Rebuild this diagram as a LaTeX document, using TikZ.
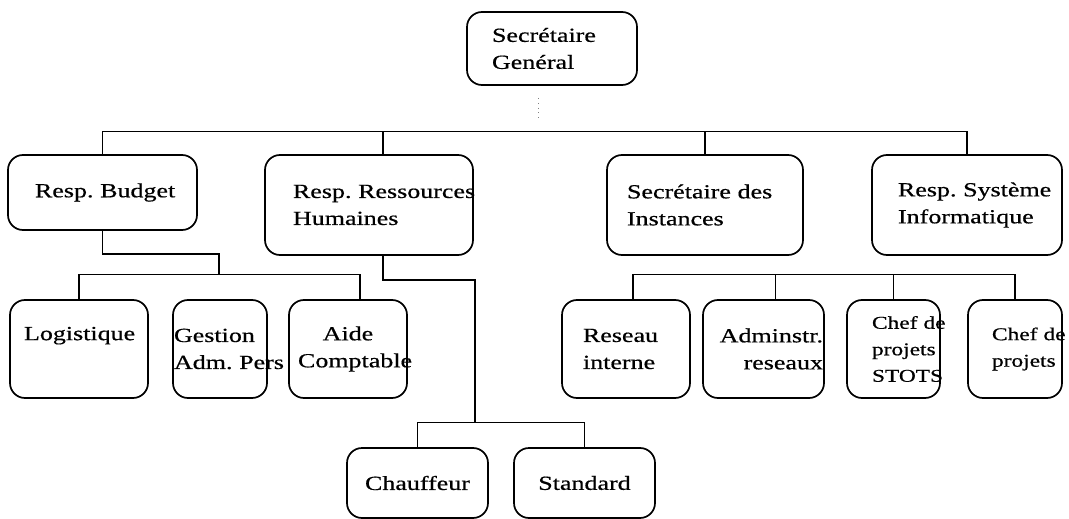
\documentclass[tikz,border=0pt]{standalone}
\usepackage{fontspec}
\setmainfont[FakeStretch=1.3,FakeBold=0.6]{Liberation Serif}
\usetikzlibrary{positioning,calc}

\tikzset{
  post/.style={draw, line width=1.7pt, rounded corners=15pt, inner sep=0pt,
    font=\fontsize{20}{27}\selectfont\frenchspacing},
  tight/.style={font=\fontsize{18}{26.5}\selectfont\frenchspacing},
  link/.style={line width=1.3pt},
}

\begin{document}
\begin{tikzpicture}[x=1pt,y=-1pt]
    \useasboundingbox (0,0) rectangle (1069,519);

    % direction
    \node[post, minimum width=170, minimum height=73, text width=120, align=left] (sg) at (552,48.5) {\mbox{Secrétaire}\\\mbox{Genéral}};

    % responsables
    \node[post, minimum width=189, minimum height=75, text width=135, align=left] (budget) at (102.5,192.5) {\mbox{Resp. Budget}};
    \node[post, minimum width=208, minimum height=100, text width=152, align=left] (rh) at (369,205) {\mbox{Resp. Ressources}\\\mbox{Humaines}};
    \node[post, minimum width=196, minimum height=100, text width=156, align=left] (si) at (705,205) {\mbox{Secrétaire des}\\\mbox{Instances}};
    \node[post, minimum width=190, minimum height=100, text width=138, align=left] (sys) at (967,205) {\mbox{Resp. Système}\\\mbox{Informatique}};

    % services
    \node[post, minimum width=138, minimum height=98, text width=110, align=center, text depth=31pt] (log) at (79,349) {\mbox{Logistique}};
    \node[post, minimum width=94, minimum height=98, text width=92, align=left] (gest) at (220,349) {\mbox{Gestion}\\\mbox{Adm. Pers}};
    \node[post, minimum width=118, minimum height=98, text width=100, align=center] (aide) at (348,349) {\mbox{Aide}\\\mbox{Comptable}};
    \node[post, minimum width=128, minimum height=98, text width=86, align=left] (reseau) at (626,349) {\mbox{Reseau}\\\mbox{interne}};
    \node[post, minimum width=121, minimum height=98, text width=119, align=right] (adm) at (763.5,349) {\mbox{Adminstr.}\\\mbox{reseaux}};
    \node[post, tight, minimum width=93, minimum height=98, text width=43, align=left] (stots) at (893.5,349) {\mbox{Chef de}\\\mbox{projets}\\\mbox{STOTS}};
    \node[post, tight, minimum width=94, minimum height=98, text width=46, align=left] (chef) at (1015,349) {\mbox{Chef de}\\\mbox{projets}};
    \node[post, minimum width=141, minimum height=70, text width=120, align=center] (chauf) at (417.5,483) {\mbox{Chauffeur}};
    \node[post, minimum width=141, minimum height=70, text width=120, align=center] (std) at (584.5,483) {\mbox{Standard}};

    % points d'attache
    \coordinate (topbus) at (538,132);
    \coordinate (rhin) at ($(rh.north)+(14,0)$);
    \coordinate (rhout) at ($(rh.south)+(14,0)$);
    \coordinate (bgjoin) at (219,275);
    \coordinate (aidein) at ($(aide.north)+(12,0)$);
    \coordinate (rhbus) at (475,423);
    \coordinate (itbus) at (633,275);
    \coordinate (resin) at ($(reseau.north)+(7,0)$);
    \coordinate (admin) at ($(adm.north)+(12,0)$);

    \draw[gray, line width=0.8pt, loosely dotted] ($(topbus)+(0,-34)$) -- ($(topbus)+(0,-12)$);
    \draw[link] (budget.north) -- ++(0,-23) -| (sys.north);
    \draw[link] (rhin) -- (rhin |- topbus);
    \draw[link] (si.north) -- (si.north |- topbus);

    \draw[link] (budget.south) -- ++(0,23) -| (bgjoin);
    \draw[link] (log.north) -- ++(0,-25) -| (aidein);

    \draw[link] (rhout) -- ++(0,24) -| (rhbus);
    \draw[link] (chauf.north) -- ++(0,-25) -| (std.north);

    \draw[link] (resin) -- ++(0,-25) -| (chef.north);
    \draw[link] (admin) -- (admin |- itbus);
    \draw[link] (stots.north) -- (stots.north |- itbus);

\end{tikzpicture}
\end{document}
